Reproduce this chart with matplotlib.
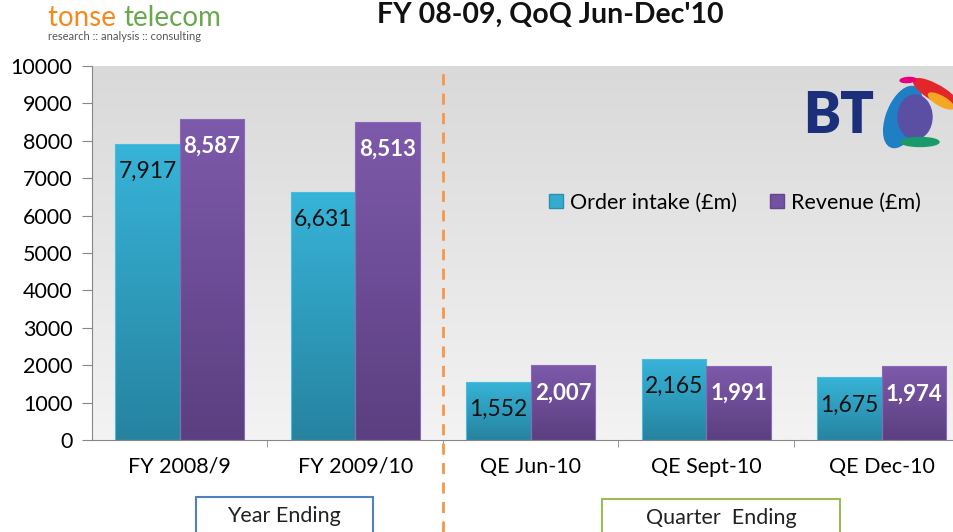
import numpy as np
import matplotlib
matplotlib.use("Agg")
import matplotlib.pyplot as plt
from matplotlib.patches import Rectangle, Ellipse
from matplotlib.lines import Line2D
from matplotlib.colors import LinearSegmentedColormap

plt.rcParams["font.family"] = ["Lato", "DejaVu Sans"]

categories = ["FY 2008/9", "FY 2009/10", "QE Jun-10", "QE Sept-10", "QE Dec-10"]
order_intake = [7917, 6631, 1552, 2165, 1675]
revenue = [8587, 8513, 2007, 1991, 1974]
yticks = [0, 1000, 2000, 3000, 4000, 5000, 6000, 7000, 8000, 9000, 10000]

W, H = 954, 532
fig = plt.figure(figsize=(W / 100, H / 100), dpi=100)
ax = fig.add_axes([92 / W, 92 / H, 877.5 / W, 374 / H])

x = np.arange(len(categories))
bw = 0.367

# background gradient
bg = LinearSegmentedColormap.from_list("bg", ["#f3f3f3", "#d9d9d9"])
ax.imshow(np.linspace(0, 1, 256).reshape(-1, 1), extent=[-0.5, 4.5, 0, 10000],
          aspect="auto", cmap=bg, origin="lower", zorder=0)

cyan = LinearSegmentedColormap.from_list("c", ["#2683a0", "#37b4d8"])
purple = LinearSegmentedColormap.from_list("p", ["#5b3f80", "#7d5aab"])
grad = np.linspace(0, 1, 256).reshape(-1, 1)

def gradient_bars(xs, vals, cmap, edge):
    bars = ax.bar(xs, vals, width=bw, align="edge", color="none", edgecolor=edge,
                  linewidth=0.8, zorder=3)
    for b in bars:
        x0, w, h = b.get_x(), b.get_width(), b.get_height()
        im = ax.imshow(grad, extent=[x0, x0 + w, 0, h], aspect="auto", cmap=cmap,
                       origin="lower", zorder=2)
        im.set_clip_path(b)
    return bars

b1 = gradient_bars(x - bw, order_intake, cyan, "#4bbcdc")
b2 = gradient_bars(x, revenue, purple, "#8a6ab5")

for xi, v in zip(x, order_intake):
    ax.annotate(f"{v:,}", (xi - bw / 2, v), xytext=(0, -20), textcoords="offset points",
                ha="center", va="center", fontsize=16.5, color="#111111", zorder=5)
for xi, v in zip(x, revenue):
    ax.annotate(f"{v:,}", (xi + bw / 2, v), xytext=(0, -20), textcoords="offset points",
                ha="center", va="center", fontsize=16, color="white", fontweight="bold", zorder=5)

ax.set_xlim(-0.5, 4.5)
ax.set_ylim(0, 10000)
ax.set_yticks(yticks)
ax.set_yticklabels([str(t) for t in yticks], fontsize=15.5)
ax.set_xticks(x)
ax.set_xticklabels(categories, fontsize=15.5)
ax.set_xticks(x[:-1] + 0.5, minor=True)
ax.tick_params(axis="x", which="major", length=0, pad=12)
ax.tick_params(axis="x", which="minor", length=5, color="#868686")
ax.tick_params(axis="y", length=7, color="#868686", pad=7)
for s in ["top", "right"]:
    ax.spines[s].set_visible(False)
for s in ["left", "bottom"]:
    ax.spines[s].set_color("#868686")
ax.set_axisbelow(False)

handles = [Line2D([], [], marker="s", linestyle="none", markersize=10, markerfacecolor="#33acd0",
                  markeredgecolor="#2a90b0"),
           Line2D([], [], marker="s", linestyle="none", markersize=10, markerfacecolor="#7352a0",
                  markeredgecolor="#634590")]
ax.legend(handles, ["Order intake (£m)", "Revenue (£m)"], ncol=2, frameon=False,
          fontsize=15.5, handlelength=0.6, handletextpad=0.35, columnspacing=1.6,
          loc="center", bbox_to_anchor=(0.733, 0.634))

# title and logos
fig.text(550 / W, 1 - 15 / H, "FY 08-09, QoQ Jun-Dec'10", ha="center", va="center",
         fontsize=20.5, fontweight="bold", color="#111111")
t1 = fig.text(48 / W, 1 - 18 / H, "tonse ", ha="left", va="center", fontsize=20, color="#f28a1e")
fig.canvas.draw()
bb = t1.get_window_extent()
fig.text(bb.x1 / W, 1 - 18 / H, "telecom", ha="left", va="center", fontsize=20, color="#6aa84f")
fig.text(48 / W, 1 - 37 / H, "research :: analysis :: consulting", ha="left", va="center",
         fontsize=8, color="#555555")

fig.text(839 / W, 1 - 116 / H, "BT", ha="center", va="center", fontsize=40,
         fontweight="heavy", color="#1b2f7a")
fig.add_artist(Ellipse((903 / W, 1 - 117 / H), 34 / W, 62 / H, angle=-10,
                       color="#1e7fc4", transform=fig.transFigure))
fig.add_artist(Ellipse((915 / W, 1 - 117 / H), 34 / W, 44 / H,
                       color="#5b4fa3", transform=fig.transFigure))
fig.add_artist(Ellipse((920 / W, 1 - 142 / H), 38 / W, 9 / H,
                       color="#1a9a6a", transform=fig.transFigure))
fig.add_artist(Ellipse((936 / W, 1 - 93 / H), 22 / W, 36 / H, angle=40,
                       color="#e3262a", transform=fig.transFigure))
fig.add_artist(Ellipse((941 / W, 1 - 101 / H), 13 / W, 20 / H, angle=40,
                       color="#f5a623", transform=fig.transFigure))
fig.add_artist(Ellipse((908 / W, 1 - 80 / H), 16 / W, 5 / H, angle=10,
                       color="#e6007e", transform=fig.transFigure))

# divider and group boxes
fig.add_artist(Line2D([443 / W, 443 / W], [0, 1 - 66 / H], color="#f79646", linewidth=2,
                      linestyle=(0, (4, 3)), transform=fig.transFigure))
fig.add_artist(Rectangle((196 / W, -0.02), 177 / W, 0.02 + 35 / H, fill=False,
                         edgecolor="#4f81bd", linewidth=1.5, transform=fig.transFigure))
fig.text(284 / W, 1 - 516 / H, "Year Ending", ha="center", va="center", fontsize=15.5, color="#222222")
fig.add_artist(Rectangle((602 / W, -0.02), 238 / W, 0.02 + 33 / H, fill=False,
                         edgecolor="#9bbb59", linewidth=1.5, transform=fig.transFigure))
fig.text(721 / W, 1 - 518 / H, "Quarter  Ending", ha="center", va="center", fontsize=15.5, color="#222222")

fig.savefig("out.png", dpi=100)
